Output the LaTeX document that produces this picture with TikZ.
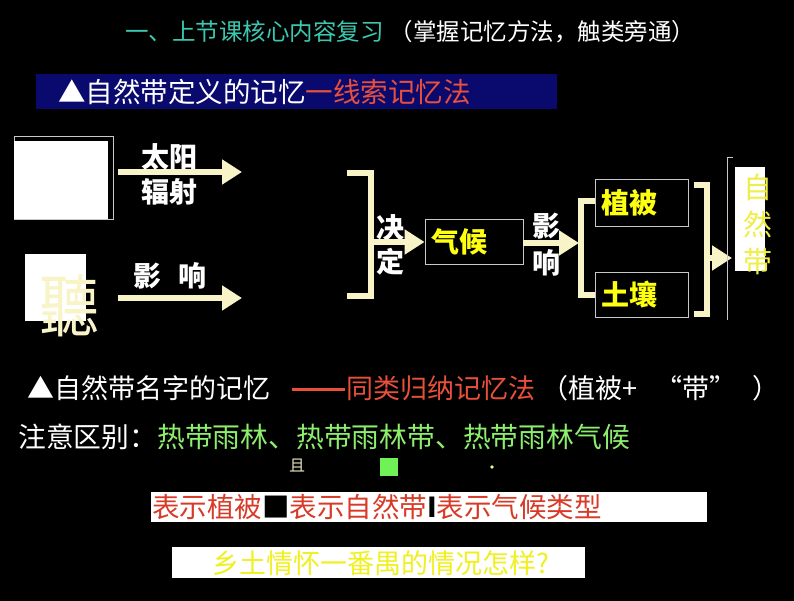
\documentclass[tikz,border=0pt]{standalone}
\usepackage{fontspec}
\setmainfont{Noto Sans CJK SC}
\usetikzlibrary{arrows.meta}
\definecolor{cream}{HTML}{F8F4C8}
\definecolor{teal2}{HTML}{3CC8B0}
\definecolor{navy2}{HTML}{0A0A6E}
\definecolor{redt}{HTML}{E8503C}
\definecolor{redb}{HTML}{D83A28}
\definecolor{lgreen}{HTML}{8CEE6C}
\definecolor{ybright}{HTML}{FFFF10}
\definecolor{yzone}{HTML}{EEEE44}
\definecolor{yq}{HTML}{F0F020}
\definecolor{frame}{HTML}{C8C8C8}
\tikzset{
  arr/.style={draw=cream, line width=6pt, -{Triangle[length=20pt,width=24pt]}},
  brk/.style={draw=cream, line width=6pt},
  wlbl/.style={text=white, inner sep=0pt, font=\fontsize{28}{30}\selectfont\bfseries},
  ybox/.style={draw=frame, fill=black, line width=0.8pt, inner sep=0pt, text=ybright,
               font=\fontsize{28}{30}\selectfont\bfseries},
  txt/.style={inner sep=0pt, anchor=west},
}
\begin{document}
\begin{tikzpicture}[x=1pt,y=-1pt]
\fill[black] (0,0) rectangle (794,601);
\useasboundingbox (0,0) rectangle (794,601);

% title
\node[txt, font=\fontsize{23.5}{26}\selectfont] (title) at (125,32)
  {\textcolor{teal2}{一、上节课核心内容复习}\hspace{6pt}\textcolor{white}{（掌握记忆方法，触类旁通）}};

% blue band
\fill[navy2] (36,74) rectangle (557,109);
\node[txt, font=\fontsize{27.5}{30}\selectfont] (sub1) at (58,92)
  {\textcolor{white}{▲自然带定义的记忆}\textcolor{redt}{一线索记忆法}};

% left boxes
\draw[frame, line width=0.8pt] (14,136) rectangle (113,219);
\node[fill=white, inner sep=0pt, minimum width=94pt, minimum height=78pt] (sun) at (61,180) {};
\node[fill=white, inner sep=0pt, minimum width=61pt, minimum height=67pt] (earth) at (55.5,287.5) {};
\node[text=cream, inner sep=0pt, font=\fontsize{68}{70}\selectfont, xscale=0.88] (ting) at (69,306) {聽};

% left arrows
\coordinate (a1s) at (118,172);
\coordinate (a1e) at (242,172);
\coordinate (a2s) at (118,298);
\coordinate (a2e) at (242,298);
\draw[arr] (a1s) -- (a1e);
\draw[arr] (a2s) -- (a2e);
\node[wlbl] (l1) at (169,157) {太阳};
\node[wlbl] (l2) at (169,192) {辐射};
\node[wlbl] (l3) at (170,276) {影\hspace{18pt}响};

% bracket 1
\draw[brk] (347,173.5) -- (371,173.5) -- (371,296) -- (347,296);
\node[wlbl] (jue) at (390,228) {决};
\node[wlbl] (ding) at (390,262) {定};

% climate
\node[ybox, minimum width=98pt, minimum height=45pt, text width=86pt, align=left] (climate) at (474,241.5) {气候};
\coordinate (b1) at (371,242);
\draw[arr] (b1) -- (climate.west |- b1);
\node[wlbl] (ying) at (546,226) {影};
\node[wlbl] (xiang) at (546,263) {响};
\coordinate (b2) at (579,243);
\draw[arr] (climate.east |- b2) -- (b2);

% bracket 2
\draw[brk] (595,201.5) -- (581,201.5) -- (581,294.5) -- (595,294.5);

% vegetation & soil
\node[ybox, minimum width=93pt, minimum height=47pt, text width=80pt, align=left] (veg) at (641.5,202.5) {植被};
\node[ybox, minimum width=93pt, minimum height=45pt, text width=80pt, align=left] (soil) at (641.5,294.5) {土壤};

% bracket 3
\draw[brk] (694,185) -- (707,185) -- (707,314) -- (694,314);
\coordinate (b3) at (705,258);
\coordinate (b3e) at (732,258);
\draw[arr] (b3) -- (b3e);

% natural zone
\draw[frame, line width=0.8pt] (733,157) -- (727,157) -- (727,320);
\fill[white] (735,167) rectangle (765,271);
\node[text=yzone, inner sep=0pt, align=center, font=\fontsize{29}{37}\selectfont] (zone) at (758,224) {自\\然\\带};

% lower text
\node[txt, font=\fontsize{27}{30}\selectfont] (sub2) at (27,388)
  {\textcolor{white}{▲自然带名字的记忆}\hspace{22pt}\textcolor{redt}{\rule[7.5pt]{53pt}{2.4pt}\hspace{1pt}同类归纳记忆法}\hspace{6pt}\textcolor{white}{（植被+\hspace{18pt}“带”\hspace{16pt}）}};
\node[txt, font=\fontsize{27.8}{30}\selectfont] (note) at (18,437)
  {\textcolor{white}{注意区别：}\textcolor{lgreen}{热带雨林、热带雨林带、热带雨林气候}};

\node[inner sep=0pt, text=cream!85!gray, font=\fontsize{16}{18}\selectfont] (qie) at (297,466) {且};
\node[fill=lgreen!80!green, inner sep=0pt, minimum size=18pt] (gsq) at (389,467) {};
\fill[yq!60!white] (492,467) circle (1.8);

\fill[white] (151,492) rectangle (707,522);
\node[txt, font=\fontsize{27.5}{30}\selectfont, text=redb] (def) at (152,507)
  {表示植被\textcolor{black}{■}表示自然带\textcolor{black}{\bfseries I}表示气候类型};

\fill[white] (172,547) rectangle (585,578);
\node[inner sep=0pt, font=\fontsize{27}{30}\selectfont, text=yq] (q) at (381,563) {乡土情怀一番禺的情况怎样?};
\end{tikzpicture}
\end{document}
